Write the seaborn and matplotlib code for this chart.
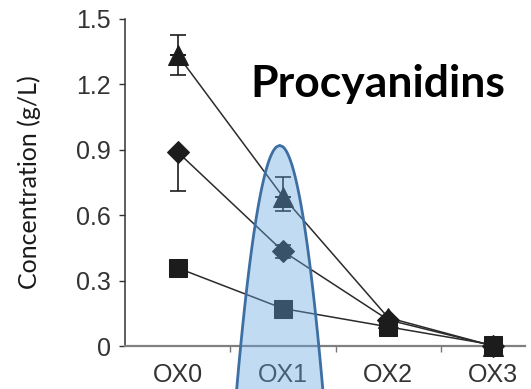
import numpy as np
import pandas as pd
import matplotlib
matplotlib.use('Agg')
import matplotlib.pyplot as plt
import seaborn as sns
from matplotlib.patches import Polygon

sns.set_style('white')
plt.rcParams['font.family'] = ['Liberation Sans', 'DejaVu Sans']

# data
stages = ['OX0', 'OX1', 'OX2', 'OX3']
tri_vals = [1.335, 0.685, 0.13, 0.0]
tri_err_lo = [0.09, 0.067, 0.0, 0.0]
tri_err_hi = [0.09, 0.09, 0.0, 0.0]
dia_vals = [0.89, 0.435, 0.12, 0.0]
dia_err_lo = [0.18, 0.03, 0.0, 0.0]
dia_err_hi = [0.0, 0.03, 0.0, 0.0]
sq_vals = [0.358, 0.172, 0.088, 0.005]
y_ticks = [0, 0.3, 0.6, 0.9, 1.2, 1.5]
y_tick_labels = ['0', '0.3', '0.6', '0.9', '1.2', '1.5']

txt = '#333333'
fig = plt.figure(figsize=(5.31, 3.89), dpi=100)
ax = fig.add_axes([125/531, 1-346/389, 400/531, 327/389])

pos = np.arange(len(stages))
series = [(tri_vals, tri_err_lo, tri_err_hi, '^', 15),
          (dia_vals, dia_err_lo, dia_err_hi, 'D', 11.5),
          (sq_vals, None, None, 's', 13)]
for i, (vals, lo, hi, mk, ms) in enumerate(series):
    df = pd.DataFrame({'x': pos, 'y': vals})
    sns.lineplot(data=df, x='x', y='y', ax=ax, color='#2b2b2b', lw=1.1,
                 marker=mk, markersize=ms, markeredgecolor='#1c1c1c',
                 markerfacecolor='#1c1c1c', zorder=3+i, clip_on=False)
    if lo is not None:
        lo, hi = np.array(lo), np.array(hi)
        for err, sgn in [(lo, -1), (hi, 1)]:
            m = err > 0
            ax.errorbar(pos[m], np.array(vals)[m], yerr=[err[m] * (sgn < 0), err[m] * (sgn > 0)],
                        fmt='none', ecolor='#1c1c1c', elinewidth=1.2, capsize=6,
                        capthick=1.2, zorder=2)

ax.set_xlim(-0.5, 3.3)
ax.set_ylim(0, 1.5)
ax.set_xticks(pos)
ax.set_xticklabels(stages)
ax.set_xticks([0.5, 1.5, 2.5], minor=True)
ax.set_yticks(y_ticks)
ax.set_yticklabels(y_tick_labels)
ax.tick_params(axis='x', which='major', length=0, pad=12, labelsize=18, labelcolor=txt)
ax.tick_params(axis='x', which='minor', length=4.5, width=1, color='#777777', direction='out', bottom=True)
ax.tick_params(axis='y', length=4, width=1, color='#333333', direction='out', left=True,
               pad=6, labelsize=18, labelcolor=txt)
ax.set_xlabel('')
ax.set_ylabel('')
for s in ['top', 'right']:
    ax.spines[s].set_visible(False)
ax.spines['left'].set_color('#333333')
ax.spines['bottom'].set_color('#808080')
ax.spines['left'].set_linewidth(1.1)
ax.spines['bottom'].set_linewidth(1.6)

# blue highlight around OX1 (parabola shape, extends below the axis)
apex_x, apex_y, k = 0.97, 0.92, 0.0262
yy = np.linspace(-0.25, apex_y, 200)
half = k * np.sqrt((apex_y - yy) * 218)
xs = np.concatenate([apex_x - half, (apex_x + half)[::-1]])
ys = np.concatenate([yy, yy[::-1]])
ax.add_patch(Polygon(np.column_stack([xs, ys]), closed=True, facecolor='#64a5e1',
                     alpha=0.4, edgecolor='none', clip_on=False, zorder=10))
ax.add_patch(Polygon(np.column_stack([xs, ys]), closed=True, facecolor='none',
                     edgecolor='#3d6fa3', lw=2, clip_on=False, zorder=11))

fig.text(29/531, 1-182/389, 'Concentration (g/L)', rotation=90, ha='center', va='center',
         fontsize=18, color='#1a1a1a', family=['Lato', 'DejaVu Sans'])
fig.text(378/531, 1-97/389, 'Procyanidins', ha='center', va='baseline',
         fontsize=32, fontweight='bold', color='black', family=['Lato', 'DejaVu Sans'])

fig.savefig('out.png', dpi=100)
